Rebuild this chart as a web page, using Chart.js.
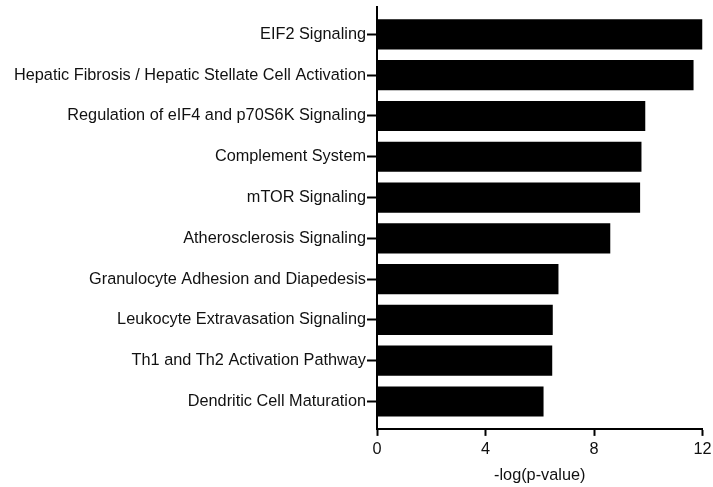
<!DOCTYPE html>
<html>
<head>
<meta charset="utf-8">
<script src="https://cdn.jsdelivr.net/npm/chart.js@4/dist/chart.umd.min.js"></script>
<style>
  body { margin: 0; background: #fff; }
  #chart { display: block; }
</style>
</head>
<body>
<canvas id="chart" width="713" height="487"></canvas>
<script>
const pathways = [
  "EIF2 Signaling",
  "Hepatic Fibrosis / Hepatic Stellate Cell Activation",
  "Regulation of eIF4 and p70S6K Signaling",
  "Complement System",
  "mTOR Signaling",
  "Atherosclerosis Signaling",
  "Granulocyte Adhesion and Diapedesis",
  "Leukocyte Extravasation Signaling",
  "Th1 and Th2 Activation Pathway",
  "Dendritic Cell Maturation"
];
const logP = [12.0, 11.67, 9.89, 9.75, 9.70, 8.60, 6.69, 6.48, 6.46, 6.14];
const xTicks = [0, 4, 8, 12];

const FONT = "'Liberation Sans', Arial, Helvetica, sans-serif";

// bars sit on a numeric y scale so the axis can run a bit past the first/last bar
const points = logP.map((v, i) => ({ x: v, y: i }));

new Chart(document.getElementById("chart").getContext("2d"), {
  type: "bar",
  data: {
    datasets: [{
      data: points,
      backgroundColor: "#000",
      borderWidth: 0,
      barPercentage: 0.74,
      categoryPercentage: 1
    }]
  },
  options: {
    indexAxis: "y",
    responsive: false,
    animation: false,
    layout: { padding: { top: 7, right: 10.5, left: 0, bottom: 0 } },
    plugins: { legend: { display: false }, tooltip: { enabled: false } },
    scales: {
      y: {
        type: "linear",
        reverse: true,
        offset: false,
        min: -0.672,
        max: pathways.length - 1 + 0.672,
        afterBuildTicks: s => { s.ticks = pathways.map((_, i) => ({ value: i })); },
        afterFit: s => { s.width = 377; s.paddingTop = 0; s.paddingBottom = 0; },
        ticks: {
          callback: v => pathways[v],
          color: "#111",
          padding: 1,
          font: { family: FONT, size: 16.3 }
        },
        grid: { offset: false, drawOnChartArea: false, drawTicks: true, tickLength: 10, tickWidth: 2, color: "#000" },
        border: { display: true, color: "#000", width: 2 }
      },
      x: {
        type: "linear",
        min: 0,
        max: 12,
        afterBuildTicks: s => { s.ticks = xTicks.map(v => ({ value: v })); },
        afterFit: s => { s.paddingLeft = 0; s.paddingRight = 0; },
        ticks: {
          color: "#111",
          padding: 4,
          font: { family: FONT, size: 16.3 }
        },
        grid: { drawOnChartArea: false, drawTicks: true, tickLength: 7, tickWidth: 2, color: "#000" },
        border: { display: true, color: "#000", width: 2 },
        title: {
          display: true,
          text: "-log(p-value)",
          color: "#111",
          padding: { top: 2, bottom: 2 },
          font: { family: FONT, size: 16.3 }
        }
      }
    }
  }
});
</script>
</body>
</html>
